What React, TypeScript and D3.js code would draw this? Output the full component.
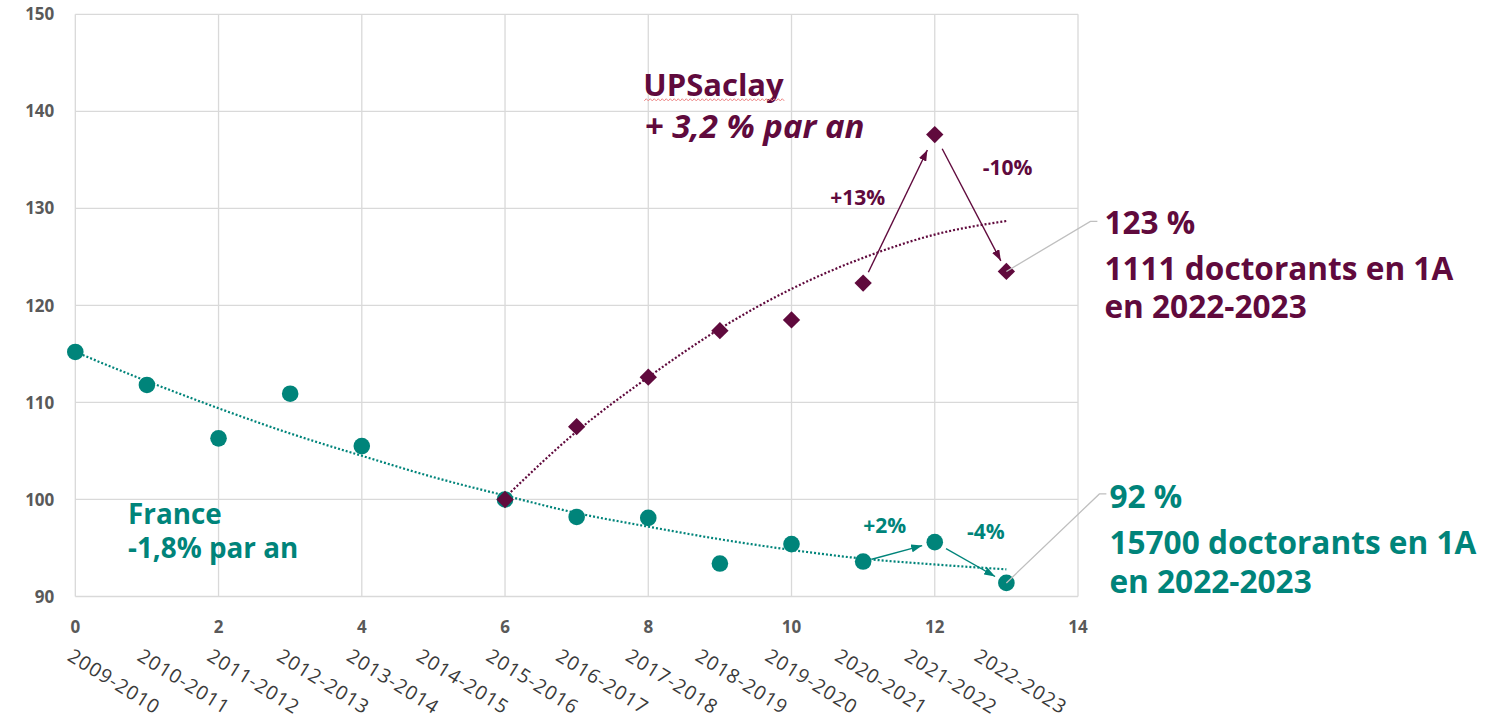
import React, { useEffect, useRef } from 'react';
import * as d3 from 'd3';

// ---------- data ----------
const categories = [
  '2009-2010', '2010-2011', '2011-2012', '2012-2013', '2013-2014', '2014-2015', '2015-2016',
  '2016-2017', '2017-2018', '2018-2019', '2019-2020', '2020-2021', '2021-2022', '2022-2023',
];
const franceValues = [115.2, 111.8, 106.3, 110.9, 105.5, null, 100, 98.2, 98.1, 93.4, 95.4, 93.6, 95.6, 91.4];
const saclayValues = [null, null, null, null, null, null, 100, 107.5, 112.6, 117.4, 118.5, 122.3, 137.6, 123.5];
// trend lines (as drawn by the spreadsheet, read at each index)
const franceTrend = [115.2, 112.2, 109.4, 106.8, 104.5, 102.3, 100.4, 98.6, 97.2, 95.9, 94.8, 93.9, 93.3, 92.8];
const saclayTrend = [null, null, null, null, null, null, 100.2, 107.0, 112.6, 117.6, 121.7, 124.9, 127.3, 128.7];
const xTicks = [0, 2, 4, 6, 8, 10, 12, 14];
const yTicks = [90, 100, 110, 120, 130, 140, 150];

// year-on-year arrows: [from index, to index, label]
const franceSteps: [number, number, string][] = [[11, 12, '+2%'], [12, 13, '-4%']];
const saclaySteps: [number, number, string][] = [[11, 12, '+13%'], [12, 13, '-10%']];

const franceTitle = ['France', '-1,8% par an'];
const saclayTitle = ['UPSaclay', '+ 3,2 % par an'];
const franceCallout = ['92 %', '15700 doctorants en 1A', 'en 2022-2023'];
const saclayCallout = ['123 %', '1111 doctorants en 1A', 'en 2022-2023'];

const TEAL = '#00847A';
const PLUM = '#600A3D';
const GRID = '#D9D9D9';
const FONT = '"Open Sans", "Noto Sans", sans-serif';

export default function App() {
  const ref = useRef<SVGSVGElement>(null);
  const width = 1486;
  const height = 719;

  useEffect(() => {
    const svg = d3.select(ref.current);
    svg.selectAll('*').remove();

    const x = d3.scaleLinear().domain([0, 14]).range([75.3, 1078]);
    const y = d3.scaleLinear().domain([90, 150]).range([596.5, 14.3]);

    // ----------- arrow heads -----------
    const defs = svg.append('defs');
    [['france', TEAL], ['saclay', PLUM]].forEach(([id, col]) => {
      defs.append('marker')
        .attr('id', `head-${id}`)
        .attr('markerUnits', 'userSpaceOnUse')
        .attr('markerWidth', 11).attr('markerHeight', 8)
        .attr('refX', 11).attr('refY', 4)
        .attr('orient', 'auto')
        .append('path')
        .attr('d', 'M0,0 L11,4 L0,8 Z')
        .attr('fill', col);
    });

    // ----------- grid -----------
    const grid = svg.append('g');
    grid.selectAll('line.v').data(xTicks).join('line')
      .attr('x1', d => x(d)).attr('x2', d => x(d))
      .attr('y1', y(90)).attr('y2', y(150))
      .attr('stroke', GRID).attr('stroke-width', 1.3);
    grid.selectAll('line.h').data(yTicks).join('line')
      .attr('x1', x(0)).attr('x2', x(14))
      .attr('y1', d => y(d)).attr('y2', d => y(d))
      .attr('stroke', GRID).attr('stroke-width', 1.3);

    // ----------- axis labels -----------
    svg.append('g').selectAll('text').data(yTicks).join('text')
      .attr('x', x(0) - 21).attr('y', d => y(d)).attr('dy', '0.36em')
      .attr('text-anchor', 'end')
      .attr('font-family', FONT).attr('font-weight', 700).attr('font-size', 17)
      .attr('fill', '#595959')
      .text(d => d);

    svg.append('g').selectAll('text').data(xTicks).join('text')
      .attr('x', d => x(d)).attr('y', y(90) + 36)
      .attr('text-anchor', 'middle')
      .attr('font-family', FONT).attr('font-weight', 700).attr('font-size', 17)
      .attr('fill', '#595959')
      .text(d => d);

    const catX = d3.scaleLinear().domain([0, categories.length - 1]).range([x(0) - 9, x(13) - 33.5]);
    svg.append('g').selectAll('text').data(categories).join('text')
      .attr('transform', (d, i) => `translate(${catX(i)},${y(90) + 63}) rotate(32)`)
      .attr('font-family', FONT).attr('font-size', 19.5).attr('letter-spacing', 1)
      .attr('fill', '#3A3A3A')
      .text(d => d);

    // ----------- trend lines -----------
    const trendLine = d3.line<number | null>()
      .defined(d => d !== null)
      .x((d, i) => x(i))
      .y(d => y(d as number))
      .curve(d3.curveMonotoneX);

    svg.append('path').datum(franceTrend)
      .attr('d', trendLine).attr('fill', 'none')
      .attr('stroke', TEAL).attr('stroke-width', 2.2).attr('stroke-dasharray', '2 2');
    svg.append('path').datum(saclayTrend)
      .attr('d', trendLine).attr('fill', 'none')
      .attr('stroke', PLUM).attr('stroke-width', 2.2).attr('stroke-dasharray', '2 2');

    // ----------- markers -----------
    const frPts = franceValues.map((v, i) => ({ i, v })).filter(d => d.v !== null) as { i: number, v: number }[];
    const saPts = saclayValues.map((v, i) => ({ i, v })).filter(d => d.v !== null) as { i: number, v: number }[];

    svg.append('g').selectAll('circle').data(frPts).join('circle')
      .attr('cx', d => x(d.i)).attr('cy', d => y(d.v))
      .attr('r', 8.3).attr('fill', TEAL);

    const diamond = d3.symbol().type(d3.symbolSquare).size(150);
    svg.append('g').selectAll('path').data(saPts).join('path')
      .attr('d', diamond)
      .attr('transform', d => `translate(${x(d.i)},${y(d.v)}) rotate(45)`)
      .attr('fill', PLUM);

    // ----------- step arrows -----------
    const drawSteps = (values: (number | null)[], steps: [number, number, string][], id: string, col: string, trims: [number, number][]) => {
      steps.forEach(([a, b], k) => {
        const x0 = x(a), y0 = y(values[a] as number);
        const x1 = x(b), y1 = y(values[b] as number);
        const len = Math.hypot(x1 - x0, y1 - y0);
        const ux = (x1 - x0) / len, uy = (y1 - y0) / len;
        const [t0, t1] = trims[k];
        svg.append('line')
          .attr('x1', x0 + ux * t0).attr('y1', y0 + uy * t0)
          .attr('x2', x1 - ux * t1).attr('y2', y1 - uy * t1)
          .attr('stroke', col).attr('stroke-width', 1.4)
          .attr('marker-end', `url(#head-${id})`);
      });
    };
    drawSteps(franceValues, franceSteps, 'france', TEAL, [[9, 13], [13, 13]]);
    drawSteps(saclayValues, saclaySteps, 'saclay', PLUM, [[12, 17], [16, 12]]);

    // step labels, placed in data coordinates
    const stepLabelPos: [number, number][] = [[11.0, 96.5], [12.45, 95.9], [10.54, 130.35], [12.67, 133.45]];
    const stepLabels = [...franceSteps.map(s => ({ t: s[2], c: TEAL })), ...saclaySteps.map(s => ({ t: s[2], c: PLUM }))];
    svg.append('g').selectAll('text').data(stepLabels).join('text')
      .attr('x', (d, i) => x(stepLabelPos[i][0]))
      .attr('y', (d, i) => y(stepLabelPos[i][1]))
      .attr('font-family', FONT).attr('font-weight', 700).attr('font-size', 21)
      .attr('fill', d => d.c)
      .text(d => d.t);

    // ----------- series titles -----------
    const fr = svg.append('text')
      .attr('font-family', FONT).attr('font-weight', 700).attr('font-size', 27.8)
      .attr('fill', TEAL);
    fr.append('tspan').attr('x', x(0.736)).attr('y', y(97.47)).text(franceTitle[0]);
    fr.append('tspan').attr('x', x(0.736)).attr('y', y(93.97)).text(franceTitle[1]);

    const sa = svg.append('text')
      .attr('font-family', FONT).attr('font-weight', 700)
      .attr('fill', PLUM);
    sa.append('tspan').attr('x', x(7.93)).attr('y', y(141.6)).attr('font-size', 31).text(saclayTitle[0]);
    sa.append('tspan').attr('x', x(7.95)).attr('y', y(137.3)).attr('font-size', 33).attr('font-style', 'italic').text(saclayTitle[1]);

    // spell-check squiggle under "UPSaclay"
    const sqX0 = x(7.93) + 1;
    const sqY = y(141.6) + 4;
    const sqPts: [number, number][] = d3.range(0, 141, 2).map((dx, k) => [sqX0 + dx, sqY + (k % 2 ? -1.1 : 1.1)]);
    svg.append('path').attr('d', d3.line()(sqPts))
      .attr('fill', 'none').attr('stroke', '#EE8A8A').attr('stroke-width', 1);

    // ----------- callouts with leader lines -----------
    const callout = (value: number, idx: number, lines: string[], col: string, elbow: [number, number], gap: number, baselines: number[]) => {
      const px = x(idx), py = y(value);
      const ex = px + elbow[0], ey = py + elbow[1];
      svg.append('polyline')
        .attr('points', `${px},${py} ${ex},${ey} ${ex + 7},${ey}`)
        .attr('fill', 'none').attr('stroke', '#BFBFBF').attr('stroke-width', 1.3);
      const t = svg.append('text')
        .attr('font-family', FONT).attr('font-weight', 700).attr('font-size', 31.6)
        .attr('fill', col);
      lines.forEach((l, i) => {
        t.append('tspan').attr('x', ex + gap).attr('y', ey + baselines[i]).text(l);
      });
    };
    callout(saclayValues[13] as number, 13, saclayCallout, PLUM, [84, -50], 14, [13, 59, 97]);
    callout(franceValues[13] as number, 13, franceCallout, TEAL, [93, -89], 10, [14, 60, 99]);
  }, []);

  return (
    <svg ref={ref} width={width} height={height}
      style={{ position: 'absolute', left: 0, top: 0, background: '#fff' }} />
  );
}
